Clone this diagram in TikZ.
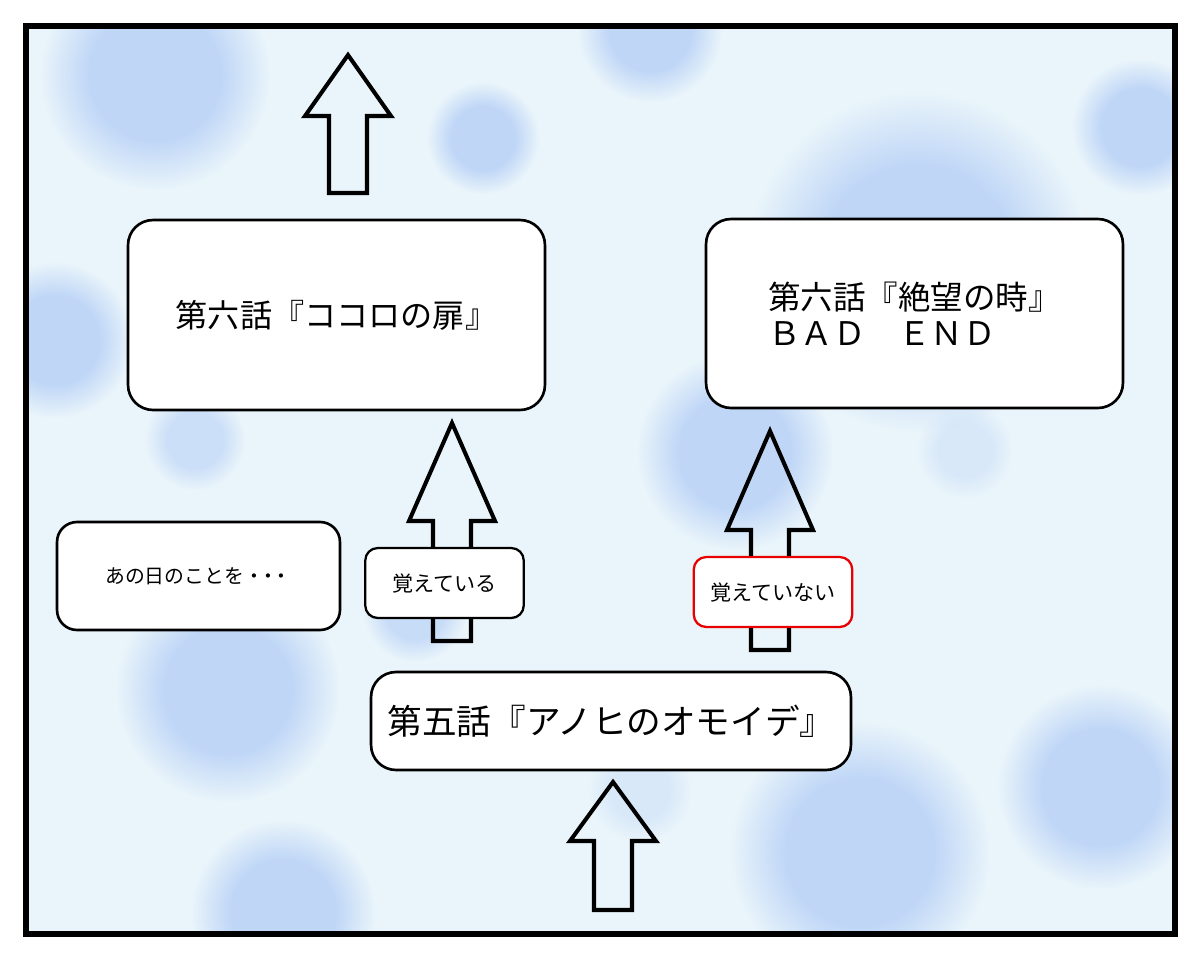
\documentclass[tikz,border=0pt]{standalone}
\usepackage{fontspec}
\setmainfont{Noto Sans CJK JP}
\usetikzlibrary{calc}
\usetikzlibrary{fadings}

\definecolor{skybg}{RGB}{234,245,251}
\definecolor{skyblob}{RGB}{191,214,247}
\definecolor{nogood}{RGB}{232,0,0}

% soft round spot for the background
\pgfdeclareradialshading{spotshade}{\pgfpointorigin}{color(0bp)=(pgftransparent!0); color(14bp)=(pgftransparent!0); color(25bp)=(pgftransparent!100); color(50bp)=(pgftransparent!100)}
\pgfdeclarefading{spotfade}{\pgfuseshading{spotshade}}

% #1 foot, #2 tip, #3 depth of the head
\newcommand{\blockarrow}[3]{%
  \draw[fatarrow] ($(#1)+(-19,0)$) -- ($(#2)+(-19,#3)$) -- ($(#2)+(-43,#3)$) -- (#2)
    -- ($(#2)+(43,#3)$) -- ($(#2)+(19,#3)$) -- ($(#1)+(19,0)$) -- cycle;}

\begin{document}
\begin{tikzpicture}[x={(0.02cm,0cm)}, y={(0cm,-0.02cm)},
  epbox/.style={draw=black, line width=1.5pt, fill=white, rounded corners=0.5cm, inner sep=0pt},
  choice/.style={draw=black, line width=1.3pt, fill=white, rounded corners=0.25cm, inner sep=0pt,
    minimum width=3.17cm, minimum height=1.4cm, font=\fontsize{12}{14}\selectfont},
  fatarrow/.style={draw=black, line width=2.3pt, line join=miter}]
  \useasboundingbox (0,0) rectangle (1200,960);
  \fill[white] (0,0) rectangle (1200,960);

  \begin{scope}
    \clip (26,26) rectangle (1175,934);
    \fill[skybg] (26,26) rectangle (1175,934);
    \foreach \cx/\cy/\r/\o in {155/75/115/1, 483/138/56/1, 650/30/72/1, 918/262/170/1, 1140/127/68/1,
        55/340/78/1, 195/440/50/.7, 735/452/98/1, 228/690/112/1, 415/610/52/.8, 283/912/92/1,
        860/852/130/1, 1100/787/102/1, 640/790/52/.4, 965/450/48/.4}
      \fill[skyblob, opacity=\o, path fading=spotfade] (\cx,\cy) circle (\r);
  \end{scope}
  \draw[line width=3.1pt] (26,26) rectangle (1175,934);

  \node[epbox, minimum width=8.34cm, minimum height=3.8cm, font=\fontsize{18.3}{21}\selectfont]
    (ep6a) at (336.5,315) {第六話『ココロの扉』};
  \node[epbox, minimum width=8.34cm, minimum height=3.78cm, align=left, font=\fontsize{18.5}{20.5}\selectfont]
    (ep6b) at (914.5,313.5) {第六話『絶望の時』\\ＢＡＤ　ＥＮＤ};
  \node[epbox, minimum width=5.66cm, minimum height=2.16cm, rounded corners=0.4cm, font=\fontsize{11.3}{13}\selectfont]
    (memo) at (198.5,576) {あの日のことを・\kern-.3em・\kern-.3em・};
  \node[epbox, minimum width=9.6cm, minimum height=1.96cm, font=\fontsize{19.7}{24}\selectfont]
    (ep5) at (611,721) {第五話『アノヒのオモイデ』};

  \coordinate (in5) at (613,910);
  \coordinate (out5) at (613,782);
  \coordinate (goyes) at (452,641);
  \coordinate (toyes) at (452,423);
  \coordinate (gono) at (770,650);
  \coordinate (tono) at (770,431);
  \coordinate (go7) at (348,193);
  \coordinate (to7) at (348,55);
  \blockarrow{in5}{out5}{59}
  \blockarrow{goyes}{toyes}{98}
  \blockarrow{gono}{tono}{99}
  \blockarrow{go7}{to7}{61}

  \node[choice] (yes) at (444.5,583) {覚えている};
  \node[choice, draw=nogood] (no) at (773,592) {覚えていない};
\end{tikzpicture}
\end{document}
